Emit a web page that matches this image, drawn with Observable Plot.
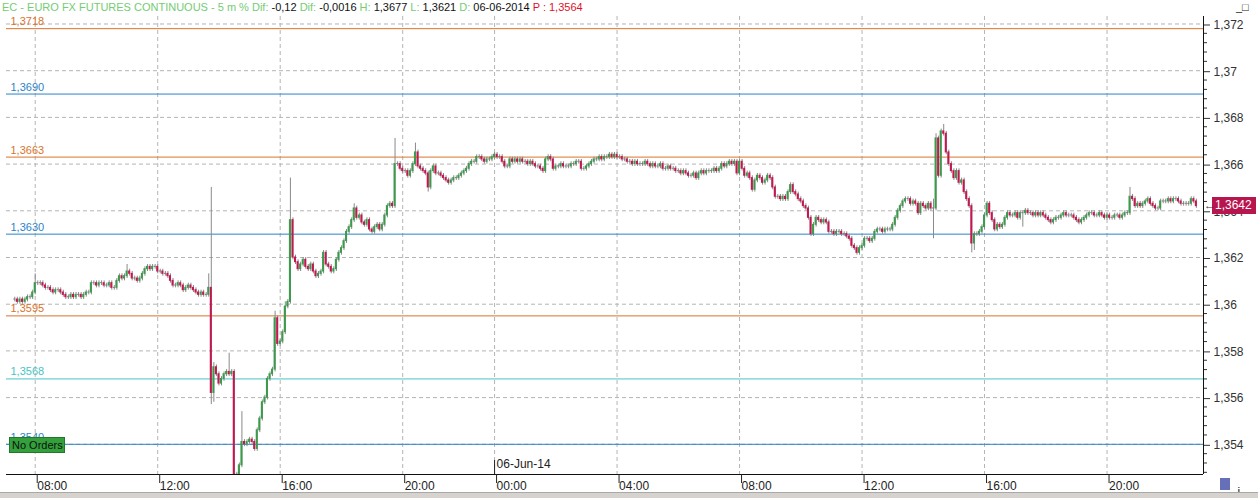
<!DOCTYPE html>
<html><head><meta charset="utf-8">
<script src="https://cdn.jsdelivr.net/npm/d3@7"></script>
<script src="https://cdn.jsdelivr.net/npm/@observablehq/plot@0.6"></script>
<style>
body{margin:0;background:#fff;width:1258px;height:498px;overflow:hidden;position:relative;font-family:"Liberation Sans",Arial,sans-serif;}
#hdr{position:absolute;left:0;top:0;width:1258px;height:16px;font-size:11px;line-height:14px;white-space:nowrap;padding-left:2px;box-sizing:border-box;}
.g{color:#74cc74}.k{color:#111}.r{color:#e0102a}
#chart{position:absolute;left:0;top:16px;}
#chart svg{display:block}
.ov{position:absolute;box-sizing:border-box;white-space:nowrap;}
</style></head><body>
<div id="hdr"><span class="g">EC - EURO FX FUTURES CONTINUOUS - 5 m % Dif: </span><span class="k">-0,12 </span><span class="g">Dif: </span><span class="k">-0,0016 </span><span class="g">H: </span><span class="k">1,3677 </span><span class="g">L: </span><span class="k">1,3621 </span><span class="g">D: </span><span class="k">06-06-2014 </span><span class="r">P : 1,3564</span></div>
<div id="chart"></div>
<script>
// ---- data ----
const hourLabels = ["08:00","12:00","16:00","20:00","00:00","04:00","08:00","12:00","16:00","20:00"];
const hourIdx = [8,56,104,152,188,236,284,332,380,428];
const dateLabel = "06-Jun-14";
const dateIdx = 188;
const yTicksMajor = [1.354,1.356,1.358,1.360,1.362,1.364,1.366,1.368,1.370,1.372];
const levelValues = [1.3718,1.3690,1.3663,1.3630,1.3595,1.3568,1.3540];
const levelLabels = ["1,3718","1,3690","1,3663","1,3630","1,3595","1,3568","1,3540"];
const levelColors = ["#d8742a","#2b83c6","#d8742a","#2b83c6","#d8742a","#47c4c4","#2b83c6"];
const lastPrice = 1.3642;
const lastLabel = "1,3642";
const ordersLabel = "No Orders";
const base = 1.35; // closes below are pips above 1.3500
const closePips = [
102,101,102,101,102,103,103,105,109,109,109,108,107,107,106,105,106,106,105,104,
103,103,104,103,104,104,103,104,105,105,109,109,108,109,109,108,108,109,107,107,
110,112,111,112,114,113,111,111,110,111,113,115,116,115,116,116,114,114,113,113,
112,110,108,108,109,108,106,107,108,107,106,105,104,105,104,104,107,62,73,70,
66,68,70,71,70,71,26,27,31,41,40,41,42,41,38,46,51,58,60,68,
70,72,94,83,84,88,99,101,136,120,118,115,117,119,116,115,117,114,112,113,
114,122,117,116,114,115,119,122,124,127,131,133,136,141,137,138,135,134,136,132,
131,133,134,132,134,138,142,143,142,160,160,158,157,157,155,157,160,165,159,158,
157,156,150,157,159,156,156,155,154,153,152,153,154,154,155,156,157,158,160,161,
161,163,163,162,161,162,162,163,164,163,163,161,159,159,162,161,162,161,162,161,
161,160,161,160,159,159,158,157,162,163,162,158,159,159,160,159,159,159,160,160,
161,161,158,158,159,160,161,162,162,163,162,163,163,164,163,164,163,163,162,162,
161,161,160,161,160,160,160,161,160,159,160,159,159,160,158,158,159,158,158,157,
157,156,157,156,155,155,156,154,156,157,156,157,157,157,158,157,158,160,159,160,
161,160,161,156,161,158,155,156,154,149,153,155,154,152,153,155,154,150,146,146,
145,146,145,148,151,148,147,145,144,142,141,137,130,134,137,136,135,136,135,131,
131,130,131,131,130,130,129,128,125,124,122,124,125,128,128,127,128,131,132,132,
131,132,132,132,134,137,140,142,144,145,145,143,144,143,139,143,142,141,143,141,
141,171,155,174,173,165,160,157,154,157,152,153,148,145,142,126,130,130,131,133,
138,143,139,136,132,134,133,134,137,139,138,138,139,137,139,139,140,139,139,138,
139,138,139,138,137,136,135,136,137,137,138,139,138,138,138,137,136,135,136,137,
138,139,139,138,138,139,138,137,138,137,137,138,138,137,138,139,139,146,145,142,
143,142,143,144,145,143,142,141,141,144,144,144,145,144,145,145,144,143,143,143,
143,145,144,142
];
const upWick = [
1,1,1,1,1,1,1,1,4,1,1,1,1,1,1,1,1,1,1,1,
1,1,1,1,1,1,1,1,1,1,1,1,1,1,1,1,1,1,1,1,
1,1,1,1,3,1,1,1,1,1,1,1,1,1,1,1,1,1,1,1,
1,1,1,1,1,1,1,1,1,1,1,1,1,1,1,1,6,43,2,1,
1,1,1,1,8,1,1,1,1,13,1,1,1,1,1,1,1,1,1,1,
1,1,3,1,1,1,2,1,18,1,1,1,1,1,1,1,1,1,1,1,
1,1,1,1,1,1,1,1,1,1,1,1,1,2,1,1,1,1,1,1,
1,1,1,1,1,1,1,1,1,11,1,1,1,1,1,1,1,4,1,1,
1,1,1,1,1,1,1,1,1,1,1,1,1,1,1,1,1,1,1,1,
1,1,1,1,1,1,1,1,1,1,1,1,1,1,1,1,1,1,1,1,
1,1,1,1,1,1,1,1,1,1,1,1,1,1,1,1,1,1,1,1,
1,1,1,1,1,1,1,1,1,1,1,1,1,1,1,1,1,1,1,1,
1,1,1,1,1,1,1,1,1,1,1,1,1,1,1,1,1,1,1,1,
1,1,1,1,1,1,1,1,1,1,1,1,1,1,1,1,1,1,1,1,
1,1,1,1,1,1,1,1,1,1,1,1,1,1,1,1,1,1,1,1,
1,1,1,1,1,1,1,1,1,1,1,1,1,1,1,1,1,1,1,1,
1,1,1,1,1,1,1,1,1,1,1,1,1,1,1,1,1,1,1,1,
1,1,1,1,1,1,1,1,1,1,1,1,1,1,1,1,1,1,1,1,
4,2,1,1,3,1,1,1,1,1,1,1,1,1,1,1,1,1,1,1,
1,1,1,1,1,1,1,1,1,1,1,1,1,1,1,1,1,1,1,1,
1,1,1,1,1,1,1,1,1,1,1,1,1,1,1,1,1,1,1,1,
1,1,1,1,1,1,1,1,1,1,1,1,1,1,1,1,1,4,1,1,
1,1,1,1,1,1,1,1,1,1,1,1,1,1,1,1,1,1,1,1,
1,1,1,1
];
const dnWick = [
1,1,1,1,1,1,1,1,1,1,1,1,1,1,1,1,1,1,1,1,
1,1,1,1,1,1,1,1,1,1,1,1,1,1,1,1,1,1,1,1,
1,1,1,1,1,1,1,1,1,1,1,1,1,1,1,1,1,1,1,1,
1,1,1,1,1,1,1,1,1,1,1,1,1,1,1,1,1,5,4,1,
1,1,1,1,1,1,4,1,1,1,1,1,1,1,1,1,1,1,1,1,
1,1,1,1,1,1,1,1,1,1,1,1,1,1,1,1,1,1,1,1,
1,1,1,1,1,1,1,1,1,1,1,1,1,1,1,1,1,1,1,1,
1,1,1,1,1,1,1,1,1,1,1,1,1,1,1,1,1,1,1,1,
1,1,2,1,1,1,1,1,1,1,1,1,1,1,1,1,1,1,1,1,
1,1,1,1,1,1,1,1,1,1,1,1,1,1,1,1,1,1,1,1,
1,1,1,1,1,1,1,1,1,1,1,1,1,1,1,1,1,1,1,1,
1,1,1,1,1,1,1,1,1,1,1,1,1,1,1,1,1,1,1,1,
1,1,1,1,1,1,1,1,1,1,1,1,1,1,1,1,1,1,1,1,
1,1,1,1,1,1,1,1,1,1,1,1,1,1,1,1,1,1,1,1,
1,1,1,1,1,1,1,1,1,1,1,1,1,1,1,1,1,1,1,1,
1,1,1,1,1,1,1,1,1,1,1,1,1,1,1,1,1,1,1,1,
1,1,1,1,1,1,1,1,1,1,1,1,1,1,1,1,1,1,1,1,
1,1,1,1,1,1,1,1,1,1,1,1,1,1,1,1,1,1,1,1,
13,1,1,1,1,1,1,1,1,1,1,1,1,1,1,4,3,1,1,1,
1,1,1,1,1,1,1,1,1,1,1,1,1,1,1,6,1,1,1,1,
1,1,1,1,1,1,1,1,1,1,1,1,1,1,1,1,1,1,1,1,
1,1,1,1,1,1,1,1,1,1,1,1,1,1,1,1,1,1,1,1,
1,1,1,1,1,1,1,1,1,1,1,1,1,1,1,1,1,1,1,1,
1,1,1,1
];

// ---- build ----
const UP = "#3c9a4c", DOWN = "#c3174f", FLAT = "#7a7a7a";
const candles = closePips.map((p, i) => {
  const c = base + p / 1e4;
  const o = base + (i ? closePips[i - 1] : p) / 1e4;
  return {
    i, o, c,
    hi: Math.max(o, c) + upWick[i] / 1e4,
    lo: Math.min(o, c) - dnWick[i] / 1e4,
    col: c > o ? UP : c < o ? DOWN : FLAT
  };
});
const levels = levelValues.map((v, k) => ({v, label: levelLabels[k], color: levelColors[k]}));
const yTicksMinor = d3.range(1.3528, 1.3724, 0.0004).filter(t => !yTicksMajor.some(m => Math.abs(m - t) < 1e-6));
const xDomain = [-3.25, 465.8];
const yDomain = [1.352707, 1.372321];
const fmtY = d => String(+d.toFixed(3)).replace(".", ",");

const chart = Plot.plot({
  width: 1258, height: 482,
  marginLeft: 6, marginRight: 55, marginTop: 0, marginBottom: 24,
  x: {domain: xDomain},
  y: {domain: yDomain},
  color: {type: "identity"},
  style: {fontFamily: "Liberation Sans, Arial, sans-serif", fontSize: "12px", color: "#222", background: "#fff"},
  marks: [
    Plot.ruleY(yTicksMajor, {stroke: "#b4b4b4", strokeDasharray: "4,3"}),
    Plot.ruleX(hourIdx, {stroke: "#b4b4b4", strokeDasharray: "4,3"}),
    Plot.ruleY(levels, {y: "v", stroke: "color", strokeWidth: 1}),
    Plot.text(levels, {y: "v", text: "label", fill: "color", frameAnchor: "left", textAnchor: "start", dx: 4, dy: -7, fontSize: 11}),
    Plot.ruleX(candles, {x: "i", y1: "lo", y2: "hi", stroke: "#8a8a8a", clip: true}),
    Plot.rect(candles, {x1: d => d.i - 0.4, x2: d => d.i + 0.4, y1: "o", y2: "c", fill: "col", insetTop: -0.5, insetBottom: -0.5, clip: true}),
    Plot.ruleX([xDomain[1]], {stroke: "#111"}),
    Plot.ruleY([yDomain[0]], {stroke: "#111"}),
    Plot.axisY(yTicksMajor, {anchor: "right", tickSize: 6, tickPadding: 4, tickFormat: fmtY, fontSize: 12, dy: 1, color: "#333"}),
    Plot.axisY(yTicksMinor, {anchor: "right", tickSize: 3, tickFormat: () => "", color: "#333"}),
    Plot.axisX(hourIdx, {anchor: "bottom", tickSize: 9, tickPadding: -2, tickFormat: d => hourLabels[hourIdx.indexOf(d)], textAnchor: "start", dx: 2, fontSize: 12, color: "#222"}),
    Plot.ruleX([dateIdx], {y1: yDomain[0], y2: yDomain[0] + 0.0006, stroke: "#222"}),
    Plot.text([dateIdx], {x: d => d, frameAnchor: "bottom", text: () => dateLabel, textAnchor: "start", dx: 2, dy: -7, fontSize: 12, fill: "#222"})
  ]
});
document.getElementById("chart").appendChild(chart);

// overlays placed with the plot's own scales
const ys = chart.scale("y");
const xs = chart.scale("x");
const tagY = 16 + ys.apply(lastPrice);
const axisX = xs.apply(xDomain[1]);
const tag = document.createElement("div");
tag.className = "ov";
tag.style.cssText = `left:${axisX + 9}px;top:${tagY - 8.5}px;width:44px;height:17px;background:#b8154f;color:#fff;font-size:12px;line-height:17px;padding-left:3px;`;
tag.textContent = lastLabel;
document.body.appendChild(tag);
const arrow = document.createElement("div");
arrow.className = "ov";
arrow.style.cssText = `left:${axisX + 1}px;top:${tagY - 8}px;font-size:11px;line-height:15px;color:#333;`;
arrow.textContent = "\u2190";
document.body.appendChild(arrow);

const lvY = 16 + ys.apply(levelValues[6]);
const box = document.createElement("div");
box.className = "ov";
box.style.cssText = `left:9px;top:${lvY - 7}px;height:16px;background:#33a03c;border:1px solid #22772a;color:#111;font-size:11px;line-height:14px;padding:0 1px 0 2px;`;
box.textContent = ordersLabel;
document.body.appendChild(box);

// window chrome
const sb = document.createElement("div");
sb.className = "ov";
sb.style.cssText = "left:0;top:492px;width:1258px;height:6px;background:#d6d3ce;border-top:1px solid #a9a9a9;";
document.body.appendChild(sb);
const btn = document.createElement("div");
btn.className = "ov";
btn.style.cssText = "left:1236px;top:1px;font-size:11px;line-height:12px;color:#222;";
btn.textContent = "_\u25A1";
document.body.appendChild(btn);
const fl = document.createElement("div");
fl.className = "ov";
fl.style.cssText = "left:1220px;top:478px;width:10px;height:12px;background:#6670b8;";
document.body.appendChild(fl);
</script>
</body></html>
